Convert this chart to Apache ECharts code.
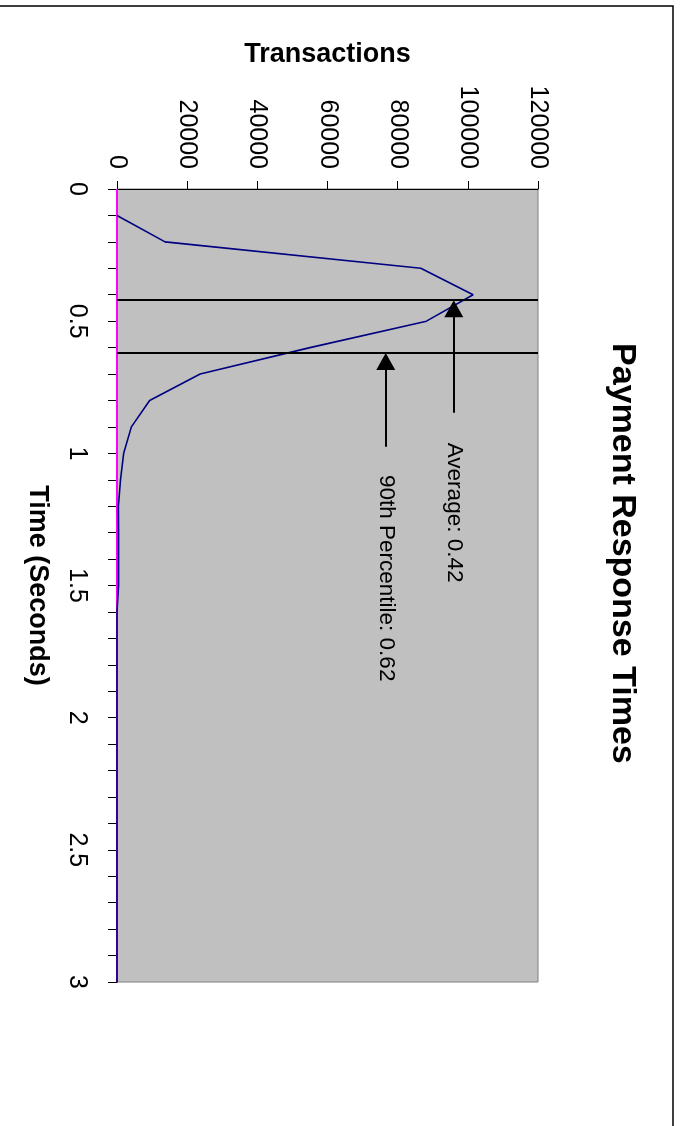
<!DOCTYPE html>
<html>
<head>
<meta charset="utf-8">
<script src="https://cdn.jsdelivr.net/npm/echarts@6/dist/echarts.min.js"></script>
<style>
  html, body { margin: 0; padding: 0; background: #ffffff; }
  #chart { width: 683px; height: 1126px; }
</style>
</head>
<body>
<div id="chart"></div>
<script>
// ---- data ----
var times = [0, 0.1, 0.2, 0.3, 0.4, 0.5, 0.6, 0.7, 0.8, 0.9, 1.0,
             1.1, 1.2, 1.3, 1.4, 1.5, 1.6, 1.7, 1.8, 1.9, 2.0,
             2.1, 2.2, 2.3, 2.4, 2.5, 2.6, 2.7, 2.8, 2.9, 3.0];
var transactions = [null, 0, 13700, 86600, 101500, 88200, 55000, 23700, 9300, 4100, 1900,
                    1000, 400, 450, 450, 450, 0, 0, 0, 0, 0,
                    0, 0, 0, 0, 0, 0, 0, 0, 0, 0];
var baseline = [0, 0, 0, 0, 0, 0, 0, 0, 0, 0, 0,
                0, 0, 0, 0, 0, 0, 0, 0, 0, 0,
                0, 0, 0, 0, 0, 0, 0, 0, 0, 0];
var averageTime = 0.42;
var percentile90Time = 0.62;
var titleText = 'Payment Response Times';
var valueAxisName = 'Transactions';
var timeAxisName = 'Time (Seconds)';
var averageLabel = 'Average: 0.42';
var percentileLabel = '90th Percentile: 0.62';

var FONT = "'Liberation Sans', Arial, Helvetica, sans-serif";

function pairs(vals) {
  var out = [];
  for (var i = 0; i < times.length; i++) out.push([vals[i], times[i]]);
  return out;
}

var chart = echarts.init(document.getElementById('chart'), null, { renderer: 'canvas' });

var option = {
  animation: false,
  backgroundColor: '#ffffff',
  grid: {
    left: 117, top: 189, width: 421, height: 793,
    show: true, backgroundColor: '#c0c0c0', borderColor: '#808080', borderWidth: 1
  },
  xAxis: {
    type: 'value', position: 'top', min: 0, max: 120000, interval: 20000,
    name: valueAxisName, nameLocation: 'middle', nameGap: 121,
    nameTextStyle: { fontFamily: FONT, fontSize: 27, fontWeight: 'bold', color: '#000' },
    axisLine: { show: true, lineStyle: { color: '#000', width: 1 } },
    axisTick: { show: true, inside: false, length: 8, lineStyle: { color: '#000', width: 1 } },
    axisLabel: {
      rotate: -90, margin: 20, fontFamily: FONT, fontSize: 25, color: '#000',
      formatter: function (v) { return String(v); }
    },
    splitLine: { show: false }
  },
  yAxis: {
    type: 'value', position: 'left', inverse: true, min: 0, max: 3, interval: 0.5,
    name: timeAxisName, nameLocation: 'middle', nameGap: 66, nameRotate: -90,
    nameTextStyle: { fontFamily: FONT, fontSize: 27, fontWeight: 'bold', color: '#000' },
    axisLine: { show: true, lineStyle: { color: '#000', width: 1 } },
    axisTick: { show: true, inside: false, length: 9, lineStyle: { color: '#000', width: 1 } },
    minorTick: { show: true, splitNumber: 5, length: 9, lineStyle: { color: '#000', width: 1 } },
    axisLabel: {
      rotate: -90, margin: 28, fontFamily: FONT, fontSize: 25, color: '#000',
      formatter: function (v) { return String(v); }
    },
    splitLine: { show: false },
    minorSplitLine: { show: false }
  },
  series: [
    {
      name: 'Baseline', type: 'line', z: 2,
      data: pairs(baseline),
      showSymbol: false, symbol: 'none',
      lineStyle: { color: '#ff00ff', width: 2 },
      silent: true
    },
    {
      name: 'Transactions', type: 'line', z: 3,
      data: pairs(transactions),
      showSymbol: false, symbol: 'none', connectNulls: false,
      lineStyle: { color: '#000080', width: 1.6 },
      silent: true,
      markLine: {
        silent: true, symbol: ['none', 'none'], animation: false,
        label: { show: false },
        lineStyle: { color: '#000', width: 2, type: 'solid' },
        data: [ { yAxis: averageTime }, { yAxis: percentile90Time } ]
      }
    },
    {
      name: 'Annotations', type: 'line', z: 4, data: [],
      markLine: {
        silent: true, animation: false,
        symbol: ['none', 'triangle'], symbolSize: [19, 17],
        label: { show: false },
        lineStyle: { color: '#000', width: 2, type: 'solid' },
        data: [
          [ { coord: [96000, 0.846] }, { coord: [96000, averageTime + 0.033] } ],
          [ { coord: [76600, 0.975] }, { coord: [76600, percentile90Time + 0.033] } ]
        ]
      }
    }
  ]
};

chart.setOption(option);

var pAvg = chart.convertToPixel({ xAxisIndex: 0, yAxisIndex: 0 }, [96000, 0.96]);
var pP90 = chart.convertToPixel({ xAxisIndex: 0, yAxisIndex: 0 }, [76600, 1.082]);

function rotText(x, y, text, size, weight) {
  return {
    type: 'text', x: x, y: y, rotation: -Math.PI / 2, silent: true,
    style: {
      text: text, fill: '#000',
      font: weight + ' ' + size + 'px ' + FONT,
      align: 'left', verticalAlign: 'middle'
    }
  };
}

chart.setOption({
  graphic: [
    {
      type: 'rect', silent: true, z: 100,
      shape: { x: -10, y: 6, width: 683, height: 1200 },
      style: { fill: 'none', stroke: '#000', lineWidth: 1.5 }
    },
    rotText(622, 343, titleText, 34, 'bold'),
    rotText(pAvg[0], pAvg[1], averageLabel, 22.5, 'normal'),
    rotText(pP90[0], pP90[1], percentileLabel, 22.5, 'normal')
  ]
});
</script>
</body>
</html>
